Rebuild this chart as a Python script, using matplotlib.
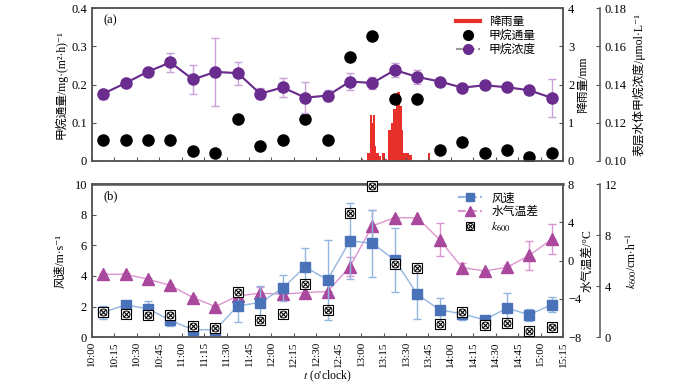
import matplotlib.pyplot as plt
import numpy as np
from matplotlib.lines import Line2D

plt.rcParams['font.family'] = ['Liberation Serif', 'Noto Sans CJK SC', 'DejaVu Serif']
plt.rcParams['mathtext.fontset'] = 'stix'
plt.rcParams['font.size'] = 9

# minutes after 10:00 (mid-points of the 15 min intervals)
t_min = [7.5, 22.5, 37.5, 52.5, 67.5, 82.5, 97.5, 112.5, 127.5, 142.5, 157.5,
         172.5, 187.5, 202.5, 217.5, 232.5, 247.5, 262.5, 277.5, 292.5, 307.5]
tick_min = [0, 15, 30, 45, 60, 75, 90, 105, 120, 135, 150, 165, 180, 195, 210,
            225, 240, 255, 270, 285, 300, 315]
tick_labels = ['10:00', '10:15', '10:30', '10:45', '11:00', '11:15', '11:30', '11:45',
               '12:00', '12:15', '12:30', '12:45', '13:00', '13:15', '13:30', '13:45',
               '14:00', '14:15', '14:30', '14:45', '15:00', '15:15']

# (a)
flux = [0.054, 0.054, 0.054, 0.054, 0.027, 0.022, 0.109, 0.039, 0.054, 0.109, 0.054,
        0.272, 0.326, 0.163, 0.163, 0.028, 0.050, 0.022, 0.028, 0.011, 0.022]
conc = [0.1352, 0.1408, 0.1468, 0.1516, 0.1427, 0.1466, 0.1460, 0.1352, 0.1385, 0.1332, 0.1342,
        0.1416, 0.1408, 0.1476, 0.1440, 0.1416, 0.1384, 0.1396, 0.1386, 0.1370, 0.1330]
conc_err = [0.0026, 0.0021, 0.0021, 0.0049, 0.0077, 0.0177, 0.0060, 0.0030, 0.0049, 0.0079, 0.0030,
            0.0042, 0.0030, 0.0037, 0.0035, 0.0, 0.0, 0.0, 0.0, 0.0, 0.0101]
rain_min = [180, 184, 185, 186, 187, 188, 189, 190, 191, 192, 194, 195, 196,
            198, 199, 200, 201, 202, 203, 204, 205, 206, 207, 208, 209, 210, 211, 212, 213, 225]
rain_mm = [0.05, 0.2, 0.2, 1.2, 1.0, 1.2, 0.4, 0.2, 0.2, 0.13, 0.2, 0.2, 0.05,
           0.8, 0.8, 1.0, 1.35, 1.35, 1.7, 1.8, 1.8, 1.43, 0.8, 0.2, 0.2, 0.2, 0.2, 0.15, 0.15, 0.2]

# (b)
wind = [1.61, 2.11, 1.85, 1.09, 0.48, 0.48, 2.04, 2.26, 3.20, 4.59, 3.74,
        6.30, 6.13, 5.04, 2.80, 1.78, 1.52, 1.13, 1.89, 1.46, 2.13]
wind_err = [0.43, 0.2, 0.5, 0.38, 0.1, 0.1, 1.03, 1.1, 0.86, 1.25, 2.6,
            2.5, 2.2, 2.1, 1.6, 0.8, 0.4, 0.2, 1.0, 0.4, 0.5]
dtemp = [-1.43, -1.43, -1.95, -2.6, -3.86, -4.8, -3.69, -3.41, -3.51, -3.34, -3.23,
         -0.63, 3.65, 4.49, 4.49, 2.19, -0.73, -1.08, -0.70, 0.56, 2.26]
dtemp_err = [0.1, 0.1, 0.1, 0.2, 0.2, 0.1, 0.1, 0.7, 0.3, 0.1, 0.1,
             1.0, 1.7, 0.0, 0.0, 1.7, 0.5, 0.0, 0.2, 1.5, 1.6]
k600 = [1.93, 1.83, 1.72, 1.70, 0.89, 0.70, 3.55, 1.36, 1.83, 4.15, 2.09,
        9.76, 11.84, 5.71, 5.45, 1.02, 1.93, 0.91, 1.10, 0.44, 0.83]

spine_c = '#555555'
purple = '#6a2c8e'
blue = '#4a72b8'
blue_l = '#93b6e0'
mag = '#a9489c'
pink = '#dc95cf'


def style(ax):
    for s in ax.spines.values():
        s.set_color(spine_c)
        s.set_linewidth(1.1)
    ax.tick_params(direction='in', length=3, color=spine_c, labelsize=9)


fig = plt.figure(figsize=(7, 3.87), dpi=100)
ax1 = fig.add_axes([0.1314, 0.584, 0.673, 0.395])
ax2 = fig.add_axes([0.1314, 0.129, 0.673, 0.395])

# ---- panel (a)
ax1r = ax1.twinx()
ax1c = ax1.twinx()
ax1c.spines['right'].set_position(('axes', 1.0786))
ax1r.set_zorder(0)
ax1.set_zorder(1)
ax1c.set_zorder(2)
ax1.patch.set_visible(False)
ax1c.patch.set_visible(False)

ax1r.bar(rain_min, rain_mm, width=1.0, color='#e8302a', align='edge')
ax1.plot(t_min, flux, 'o', color='black', ms=8, ls='none')
ax1c.errorbar(t_min, conc, yerr=conc_err, fmt='o', color=purple, ms=8,
              ecolor='#c9a0d8', elinewidth=1, capsize=3, ls='-', zorder=3)
ax1c.plot(t_min, conc, color='#999999', lw=1, zorder=2)

ax1.set_xlim(0, 315)
ax1.set_ylim(0, 0.4)
ax1.set_yticks([0, 0.1, 0.2, 0.3, 0.4])
ax1.set_yticklabels(['0', '0.1', '0.2', '0.3', '0.4'])
ax1.set_xticks(tick_min)
ax1.set_xticklabels([])
ax1r.set_ylim(0, 4)
ax1r.set_yticks([0, 1, 2, 3, 4])
ax1c.set_ylim(0.10, 0.18)
ax1c.set_yticks([0.10, 0.12, 0.14, 0.16, 0.18])
ax1c.set_yticklabels(['0.10', '0.12', '0.14', '0.16', '0.18'])
for a in (ax1, ax1r, ax1c):
    style(a)
ax1c.spines['left'].set_visible(False)
ax1c.spines['top'].set_visible(False)
ax1c.spines['bottom'].set_visible(False)

ax1.set_ylabel('甲烷通量/mg·(m²·h)⁻¹', fontsize=8.5, labelpad=3)
ax1r.set_ylabel('降雨量/mm', fontsize=8.5, labelpad=2)
ax1c.set_ylabel('表层水体甲烷浓度/μmol·L⁻¹', fontsize=8.5, labelpad=4)
ax1.text(0.025, 0.9, '(a)', transform=ax1.transAxes, fontsize=9)

h_a = [Line2D([], [], color='#e8302a', lw=3),
       Line2D([], [], marker='o', color='black', ls='none', ms=7),
       Line2D([], [], marker='o', color='#999999', ms=7, ls='--',
              mec=purple, mfc=purple)]
ax1c.legend(h_a, ['降雨量', '甲烷通量', '甲烷浓度'], loc='upper left',
            bbox_to_anchor=(0.755, 1.0), frameon=False, fontsize=8.5,
            handlelength=2.0, labelspacing=0.15, borderaxespad=0.3)

# ---- panel (b)
ax2r = ax2.twinx()
ax2k = ax2.twinx()
ax2k.spines['right'].set_position(('axes', 1.0786))
ax2r.set_zorder(1)
ax2.set_zorder(2)
ax2k.set_zorder(3)
ax2.patch.set_visible(False)
ax2k.patch.set_visible(False)

ax2r.errorbar(t_min, dtemp, yerr=dtemp_err, fmt='^', color=mag, ms=8,
              ecolor=pink, elinewidth=1, capsize=3, ls='none', zorder=3)
ax2r.plot(t_min, dtemp, color=pink, lw=1, zorder=2)
ax2.errorbar(t_min, wind, yerr=wind_err, fmt='s', color=blue, ms=7,
             ecolor=blue_l, elinewidth=1, capsize=3, ls='none', zorder=3)
ax2.plot(t_min, wind, color=blue_l, lw=1, zorder=2)
ax2k.plot(t_min, k600, 's', mfc='white', mec='black', ms=7, mew=0.8, ls='none', clip_on=False)
ax2k.plot(t_min, k600, 'o', mfc='none', mec='black', ms=5, mew=0.7, ls='none', clip_on=False)
ax2k.plot(t_min, k600, 'x', color='black', ms=4, mew=0.8, ls='none', clip_on=False)

ax2.set_xlim(0, 315)
ax2.set_ylim(0, 10)
ax2.set_yticks([0, 2, 4, 6, 8, 10])
ax2.set_xticks(tick_min)
ax2.set_xticklabels(tick_labels, rotation=90, fontsize=8)
ax2r.set_ylim(-8, 8)
ax2r.set_yticks([-8, -4, 0, 4, 8])
ax2k.set_ylim(0, 12)
ax2k.set_yticks([0, 4, 8, 12])
for a in (ax2, ax2r, ax2k):
    style(a)
ax2.tick_params(axis='x', labelsize=8, pad=3)
ax2k.spines['left'].set_visible(False)
ax2k.spines['top'].set_visible(False)
ax2k.spines['bottom'].set_visible(False)
ax2.spines['top'].set_linewidth(1.8)

ax2.set_ylabel('风速/m·s⁻¹', fontsize=8.5, labelpad=6)
ax2r.set_ylabel('水气温差/°C', fontsize=8.5, labelpad=0)
ax2k.set_ylabel(r'$k_{600}$/cm$\cdot$h$^{-1}$', fontsize=8.5, labelpad=4)
ax2.set_xlabel(r"$t$ (o'clock)", fontsize=8.5, labelpad=1)
ax2.text(0.025, 0.9, '(b)', transform=ax2.transAxes, fontsize=9)

h_b = [Line2D([], [], marker='s', color=blue_l, mfc=blue, mec=blue, ms=6, ls='--'),
       Line2D([], [], marker='^', color=pink, mfc=mag, mec=mag, ms=7, ls='--'),
       (Line2D([], [], marker='s', mfc='white', mec='black', ms=6, mew=0.8, ls='none'),
        Line2D([], [], marker='o', mfc='none', mec='black', ms=4.5, mew=0.7, ls='none'),
        Line2D([], [], marker='x', color='black', ms=3.5, mew=0.8, ls='none'))]
ax2k.legend(h_b, ['风速', '水气温差', r'$k_{600}$'], loc='upper left',
            bbox_to_anchor=(0.76, 1.0), frameon=False, fontsize=8.5,
            handlelength=2.0, labelspacing=0.15, borderaxespad=0.3)

fig.savefig('out.png', dpi=100)
